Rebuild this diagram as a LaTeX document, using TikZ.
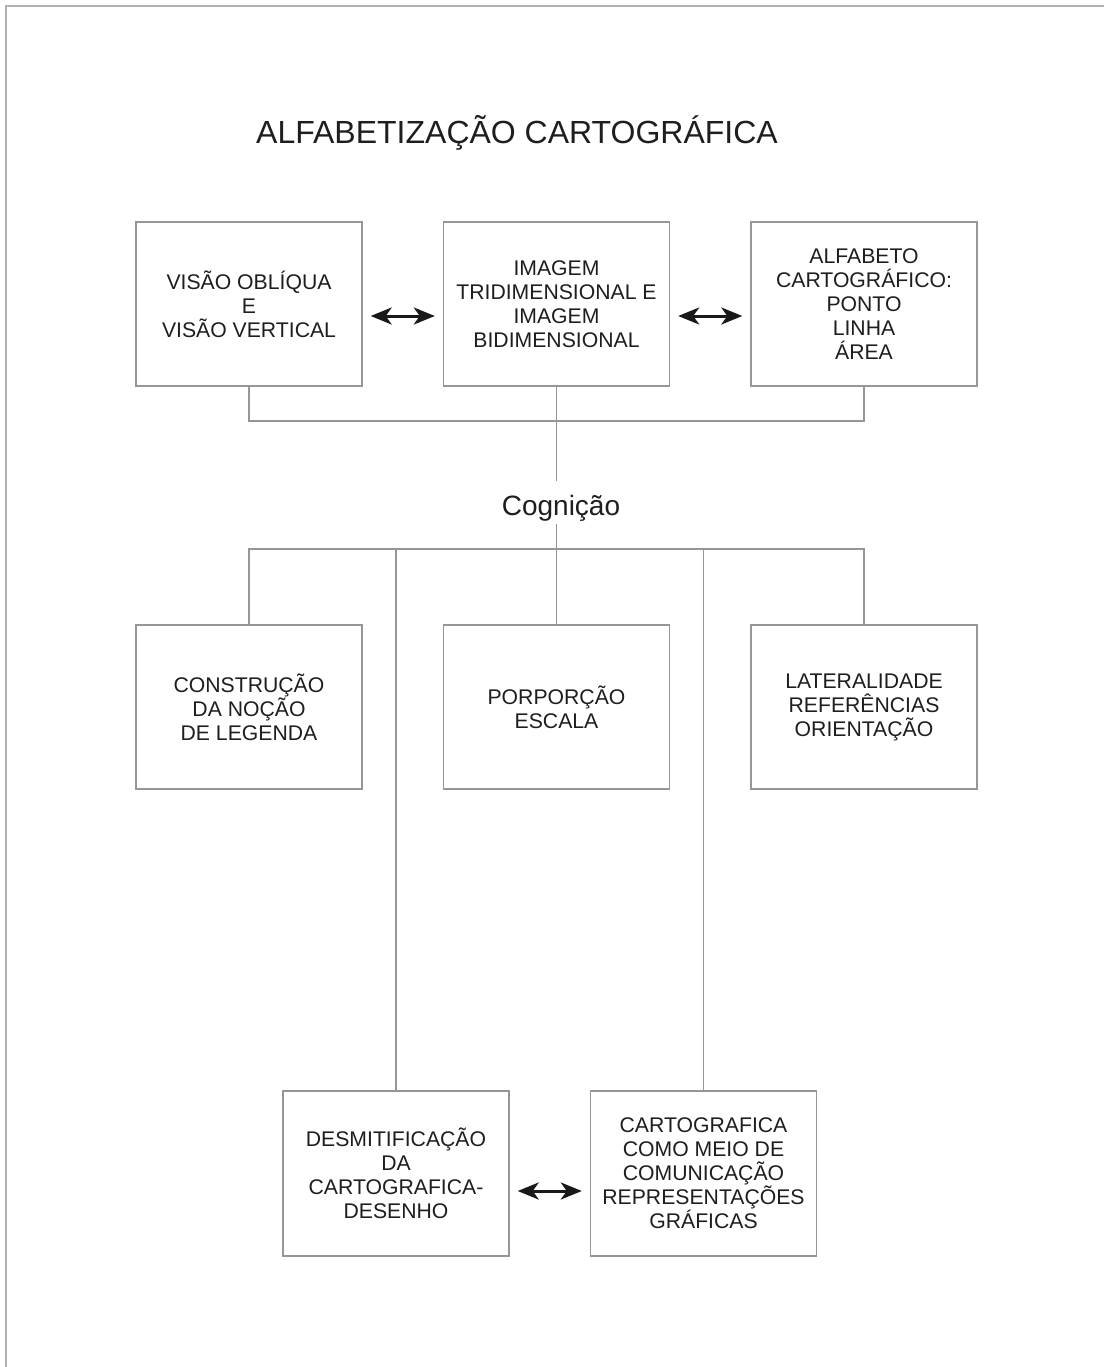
\documentclass[tikz,border=0pt]{standalone}
\usepackage{fontspec}
\setmainfont{Liberation Sans}
\usetikzlibrary{arrows.meta}
\definecolor{linegray}{RGB}{150,150,150}
\definecolor{txt}{RGB}{30,30,30}
\begin{document}
\begin{tikzpicture}[x=1pt,y=-1pt,
  boxnode/.style={draw=linegray,line width=1.4pt,rectangle,minimum width=226pt,minimum height=164pt,
    align=center,text=txt,inner sep=0pt,font=\fontsize{21.2}{24}\selectfont},
  conn/.style={draw=linegray,line width=1.3pt},
  dblarrow/.style={draw=black!90,fill=black!90,line width=3pt,
    arrows={Stealth[length=21pt,width=17pt,inset=6pt]-Stealth[length=21pt,width=17pt,inset=6pt]}}]
\useasboundingbox (0,0) rectangle (1104,1367);
\fill[white] (0,0) rectangle (1104,1367);
\draw[black!30,line width=1.5pt] (1104,6) -- (6,6) -- (6,1367);

\node[text=txt,font=\fontsize{32}{36}\selectfont] (title) at (517,133) {ALFABETIZAÇÃO CARTOGRÁFICA};

\node[boxnode] (b1) at (249,304) {VISÃO OBLÍQUA\\E\\VISÃO VERTICAL};
\node[boxnode] (b2) at (556.5,304) {IMAGEM\\TRIDIMENSIONAL E\\IMAGEM\\BIDIMENSIONAL};
\node[boxnode] (b3) at (864,304) {ALFABETO\\CARTOGRÁFICO:\\PONTO\\LINHA\\ÁREA};

\node[text=txt,font=\fontsize{28}{32}\selectfont,inner sep=0pt,minimum height=36pt] (cog) at (561,508) {Cognição};

\node[boxnode] (b4) at (249,707) {CONSTRUÇÃO\\DA NOÇÃO\\DE LEGENDA};
\node[boxnode] (b5) at (556.5,707) {PORPORÇÃO\\ESCALA};
\node[boxnode] (b6) at (864,707) {LATERALIDADE\\REFERÊNCIAS\\ORIENTAÇÃO};

\node[boxnode,minimum height=165pt] (b7) at (396,1173.5) {DESMITIFICAÇÃO\\DA\\CARTOGRAFICA-\\DESENHO};
\node[boxnode,minimum height=165pt] (b8) at (703.5,1173.5) {CARTOGRAFICA\\COMO MEIO DE\\COMUNICAÇÃO\\REPRESENTAÇÕES\\GRÁFICAS};

% tree connectors
\coordinate (j1) at (556.5,421);
\coordinate (cogtop) at (556.5,481);
\coordinate (cogbot) at (556.5,524);
\coordinate (j2) at (556.5,549);
\draw[conn] (b1.south) |- (j1) -| (b3.south);
\draw[conn] (b2.south) -- (j1) -- (cogtop);
\draw[conn] (cogbot) -- (j2);
\draw[conn] (b4.north) |- (j2) -| (b6.north);
\draw[conn] (j2) -- (b5.north);
\draw[conn] (b7.north) -- (b7.north |- j2);
\draw[conn] (b8.north) -- (b8.north |- j2);

% double arrows
\draw[dblarrow] ([shift={(8,12)}]b1.east) -- ([shift={(-8,12)}]b2.west);
\draw[dblarrow] ([shift={(8,12)}]b2.east) -- ([shift={(-8,12)}]b3.west);
\draw[dblarrow] ([shift={(8,17.5)}]b7.east) -- ([shift={(-8,17.5)}]b8.west);
\end{tikzpicture}
\end{document}
